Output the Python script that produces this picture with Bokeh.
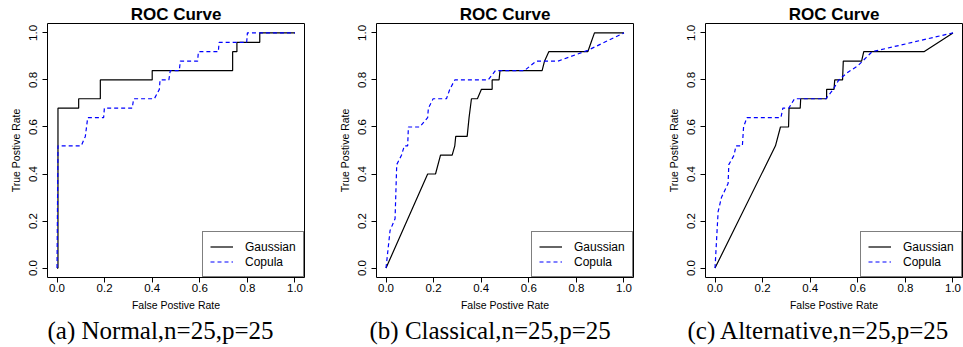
from bokeh.plotting import figure
from bokeh.layouts import row
from bokeh.models import Range1d, FixedTicker, NumeralTickFormatter, Legend, LegendItem, Title
from bokeh.embed import file_html
from bokeh.resources import INLINE

# ---- data ----
gauss_a_fpr = [0, 0.004, 0.004, 0.091, 0.091, 0.182, 0.182, 0.40, 0.40, 0.738, 0.738, 0.756, 0.756, 0.852, 0.852, 1.0]
gauss_a_tpr = [0, 0, 0.68, 0.68, 0.72, 0.72, 0.80, 0.80, 0.84, 0.84, 0.92, 0.92, 0.96, 0.96, 1.0, 1.0]
copula_a_fpr = [0, 0.004, 0.102, 0.119, 0.129, 0.196, 0.199, 0.316, 0.322, 0.409, 0.43, 0.433, 0.47, 0.476, 0.514, 0.518, 0.591, 0.594, 0.678, 0.681, 0.797, 0.80, 1.0]
copula_a_tpr = [0, 0.52, 0.52, 0.56, 0.64, 0.64, 0.68, 0.68, 0.72, 0.72, 0.76, 0.80, 0.80, 0.84, 0.84, 0.88, 0.88, 0.92, 0.92, 0.96, 0.96, 1.0, 1.0]

gauss_b_fpr = [0, 0.175, 0.208, 0.229, 0.278, 0.289, 0.293, 0.341, 0.349, 0.359, 0.384, 0.401, 0.446, 0.446, 0.475, 0.479, 0.656, 0.666, 0.684, 0.848, 0.862, 0.876, 1.0]
gauss_b_tpr = [0, 0.40, 0.40, 0.48, 0.48, 0.52, 0.56, 0.56, 0.64, 0.72, 0.72, 0.76, 0.76, 0.80, 0.80, 0.84, 0.84, 0.88, 0.92, 0.92, 0.96, 1.0, 1.0]
copula_b_fpr = [0, 0.017, 0.038, 0.045, 0.065, 0.077, 0.091, 0.094, 0.142, 0.175, 0.178, 0.198, 0.254, 0.268, 0.289, 0.429, 0.46, 0.582, 0.631, 0.722, 0.848, 1.0]
copula_b_tpr = [0, 0.16, 0.21, 0.44, 0.48, 0.52, 0.52, 0.60, 0.60, 0.64, 0.68, 0.72, 0.72, 0.76, 0.80, 0.80, 0.84, 0.84, 0.88, 0.88, 0.926, 1.0]

gauss_c_fpr = [0, 0.254, 0.275, 0.309, 0.311, 0.358, 0.36, 0.469, 0.469, 0.50, 0.503, 0.536, 0.539, 0.616, 0.625, 0.878, 1.0]
gauss_c_tpr = [0, 0.52, 0.60, 0.60, 0.68, 0.68, 0.72, 0.72, 0.76, 0.76, 0.80, 0.80, 0.88, 0.88, 0.92, 0.92, 1.0]
copula_c_fpr = [0, 0.013, 0.027, 0.055, 0.058, 0.08, 0.088, 0.115, 0.12, 0.134, 0.277, 0.285, 0.31, 0.334, 0.466, 0.497, 0.52, 0.56, 0.60, 0.66, 1.0]
copula_c_tpr = [0, 0.24, 0.30, 0.36, 0.44, 0.48, 0.52, 0.52, 0.60, 0.64, 0.64, 0.68, 0.68, 0.72, 0.72, 0.76, 0.80, 0.834, 0.86, 0.92, 1.0]

ticks = [0, 0.2, 0.4, 0.6, 0.8, 1.0]
series_names = ["Gaussian", "Copula"]
captions = ["(a) Normal,n=25,p=25", "(b) Classical,n=25,p=25", "(c) Alternative,n=25,p=25"]
title_text = "ROC Curve"
xlabel = "False Postive Rate"
ylabel = "True Postive Rate"

panels = [
    (gauss_a_fpr, gauss_a_tpr, copula_a_fpr, copula_a_tpr),
    (gauss_b_fpr, gauss_b_tpr, copula_b_fpr, copula_b_tpr),
    (gauss_c_fpr, gauss_c_tpr, copula_c_fpr, copula_c_tpr),
]
left_borders = [47, 55, 63]
right_borders = [17, 9, 1]
caption_offsets = [0, -7, -18]

SANS = "Liberation Sans"
figs = []
for i, (gx, gy, cx, cy) in enumerate(panels):
    p = figure(width=321, height=347, output_backend="svg", toolbar_location=None,
               x_range=Range1d(-0.04, 1.04), y_range=Range1d(-0.04, 1.04),
               min_border_left=left_borders[i], min_border_right=right_borders[i],
               min_border_top=23, min_border_bottom=70)
    p.title.text = title_text
    p.title.text_font = SANS
    p.title.text_font_size = "17px"
    p.title.text_font_style = "bold"
    p.title.text_color = "black"
    p.title.align = "center"
    p.title.standoff = 0
    p.title.offset = 0
    p.grid.visible = False
    p.outline_line_color = "black"
    p.outline_line_width = 1
    p.outline_line_alpha = 1
    p.background_fill_color = "white"
    p.border_fill_color = "white"

    for ax in (p.xaxis[0], p.yaxis[0]):
        ax.ticker = FixedTicker(ticks=ticks)
        ax.formatter = NumeralTickFormatter(format="0.0")
        ax.axis_line_color = None
        ax.major_tick_out = 5
        ax.major_tick_in = 0
        ax.minor_tick_line_color = None
        ax.major_tick_line_color = "black"
        ax.major_label_text_font = SANS
        ax.major_label_text_font_size = "11.5px"
        ax.major_label_text_color = "black"
        ax.axis_label_text_font = SANS
        ax.axis_label_text_font_size = "10.5px"
        ax.axis_label_text_font_style = "normal"
        ax.axis_label_text_color = "black"
    p.xaxis[0].axis_label = xlabel
    p.xaxis[0].major_label_standoff = 1
    p.xaxis[0].axis_label_standoff = 4
    p.yaxis[0].axis_label = ylabel
    p.yaxis[0].major_label_orientation = "parallel"
    p.yaxis[0].major_label_standoff = 5
    p.yaxis[0].axis_label_standoff = 5

    r1 = p.line(gx, gy, line_color="black", line_width=1.2)
    r2 = p.line(cx, cy, line_color="blue", line_width=1.2, line_dash="4 3")

    leg = Legend(items=[LegendItem(label=series_names[0], renderers=[r1]),
                        LegendItem(label=series_names[1], renderers=[r2])],
                 location="bottom_right", margin=0, padding=7, spacing=0,
                 glyph_width=23, glyph_height=15, label_height=15, label_width=51,
                 label_standoff=12, label_text_font=SANS, label_text_font_size="12px",
                 label_text_color="black",
                 border_line_color="black", border_line_width=1, background_fill_alpha=1)
    p.add_layout(leg)

    cap = Title(text=captions[i], text_font="Liberation Serif", text_font_size="25px",
                text_font_style="normal", align="left", offset=caption_offsets[i],
                standoff=2, text_color="black")
    p.add_layout(cap, "below")
    figs.append(p)

layout = row(*figs, spacing=0)
open("out.html", "w").write(file_html(layout, INLINE))
